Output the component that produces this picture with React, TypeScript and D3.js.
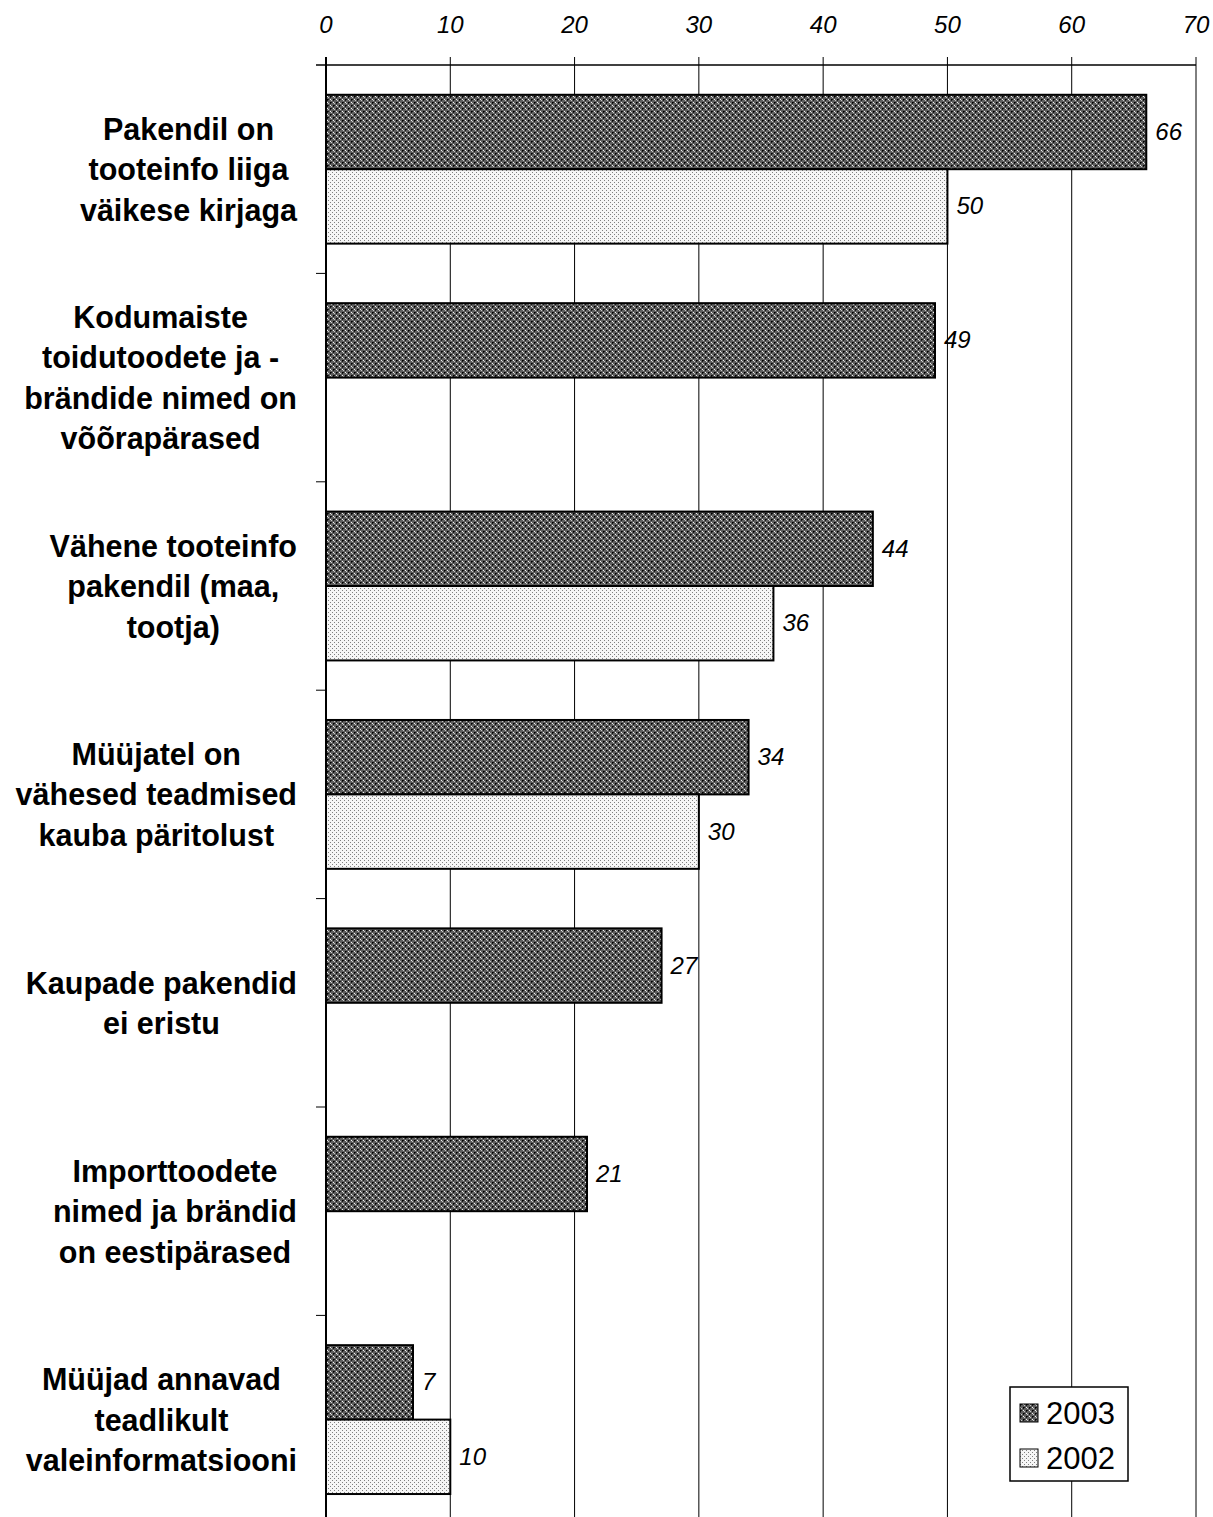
import React, { useEffect, useRef } from "react";
import * as d3 from "d3";

const categories: string[][] = [
  ["Pakendil on", "tooteinfo liiga", "väikese kirjaga"],
  ["Kodumaiste", "toidutoodete ja -", "brändide nimed on", "võõrapärased"],
  ["Vähene tooteinfo", "pakendil (maa,", "tootja)"],
  ["Müüjatel on", "vähesed teadmised", "kauba päritolust"],
  ["Kaupade pakendid", "ei eristu"],
  ["Importtoodete", "nimed ja brändid", "on eestipärased"],
  ["Müüjad annavad", "teadlikult", "valeinformatsiooni"],
];
const values2003: (number | null)[] = [66, 49, 44, 34, 27, 21, 7];
const values2002: (number | null)[] = [50, null, 36, 30, null, null, 10];
const seriesNames = ["2003", "2002"];
const xTicks = [0, 10, 20, 30, 40, 50, 60, 70];

const W = 1213;
const H = 1517;
const FONT = "'Liberation Sans', Arial, sans-serif";

export default function App() {
  const ref = useRef<SVGSVGElement>(null);
  useEffect(() => {
    const svg = d3.select(ref.current);
    svg.selectAll("*").remove();

    const defs = svg.append("defs");
    const pd = defs.append("pattern").attr("id", "pDark").attr("patternUnits", "userSpaceOnUse")
      .attr("width", 6).attr("height", 6);
    pd.append("rect").attr("width", 6).attr("height", 6).attr("fill", "#5e5e5e");
    [[0,0],[3,3]].forEach(([x,y]) => pd.append("rect").attr("x", x).attr("y", y).attr("width", 1).attr("height", 1).attr("fill", "#000"));
    [[1,0],[0,1],[4,3],[3,4]].forEach(([x,y]) => pd.append("rect").attr("x", x).attr("y", y).attr("width", 1).attr("height", 1).attr("fill", "#1a1a1a"));
    [[0,3],[3,0]].forEach(([x,y]) => pd.append("rect").attr("x", x).attr("y", y).attr("width", 1).attr("height", 1).attr("fill", "#f4f4f4"));
    [[1,4],[4,1]].forEach(([x,y]) => pd.append("rect").attr("x", x).attr("y", y).attr("width", 1).attr("height", 1).attr("fill", "#c8c8c8"));

    const pl = defs.append("pattern").attr("id", "pLight").attr("patternUnits", "userSpaceOnUse")
      .attr("width", 4).attr("height", 4);
    pl.append("rect").attr("width", 4).attr("height", 4).attr("fill", "#f6f6f6");
    [[0,0],[2,2]].forEach(([x,y]) => pl.append("rect").attr("x", x).attr("y", y).attr("width", 1).attr("height", 1).attr("fill", "#808080"));

    const x0 = 326, x1 = 1196, yTop = 65, band = 208.4;
    const x = d3.scaleLinear().domain([0, 70]).range([x0, x1]);
    const y = d3.scaleBand<number>().domain(categories.map((_, i) => i))
      .range([yTop, yTop + band * categories.length]).paddingInner(0).paddingOuter(0);
    const ys = d3.scaleBand<string>().domain(seriesNames).range([0, y.bandwidth()])
      .paddingInner(0).paddingOuter(0.4);

    // gridlines
    svg.append("g").selectAll("line").data(xTicks).join("line")
      .attr("x1", d => x(d)).attr("x2", d => x(d))
      .attr("y1", yTop - 8).attr("y2", H)
      .attr("stroke", "#000").attr("stroke-width", d => d === 0 ? 2 : 1);

    // top axis line
    svg.append("line").attr("x1", x0 - 10).attr("x2", x1).attr("y1", yTop).attr("y2", yTop)
      .attr("stroke", "#000").attr("stroke-width", 1.5);

    // left ticks
    svg.append("g").selectAll("line").data(d3.range(1, categories.length)).join("line")
      .attr("x1", x0 - 10).attr("x2", x0).attr("y1", d => yTop + band * d).attr("y2", d => yTop + band * d)
      .attr("stroke", "#000").attr("stroke-width", 1);

    // tick labels
    svg.append("g").selectAll("text").data(xTicks).join("text")
      .attr("x", d => x(d)).attr("y", 33).attr("text-anchor", "middle")
      .attr("font-family", FONT).attr("font-style", "italic")
      .attr("font-size", 24).text(d => String(d));

    const series = [
      { name: "2003", vals: values2003, fill: "url(#pDark)" },
      { name: "2002", vals: values2002, fill: "url(#pLight)" },
    ];
    series.forEach(s => {
      const g = svg.append("g");
      s.vals.forEach((v, i) => {
        if (v == null) return;
        const by = (y(i) as number) + (ys(s.name) as number);
        g.append("rect").attr("x", x(0)).attr("y", by).attr("width", x(v) - x(0)).attr("height", ys.bandwidth())
          .attr("fill", s.fill).attr("stroke", "#000").attr("stroke-width", 2);
        g.append("text").attr("x", x(v) + 9).attr("y", by + ys.bandwidth() / 2 + 8)
          .attr("font-family", FONT).attr("font-style", "italic")
          .attr("font-size", 24).text(String(v));
      });
    });

    // category labels
    const lineH = 40.5;
    categories.forEach((lines, i) => {
      const cy = (y(i) as number) + y.bandwidth() / 2;
      const t = svg.append("text").attr("font-family", FONT)
        .attr("font-weight", "bold").attr("font-size", 30.5).attr("text-anchor", "middle");
      const spans = lines.map((ln, k) => t.append("tspan").attr("x", 0)
        .attr("y", cy - ((lines.length - 1) * lineH) / 2 + k * lineH + 11).text(ln));
      let maxW = 0;
      spans.forEach(sp => { maxW = Math.max(maxW, (sp.node() as SVGTSpanElement).getComputedTextLength()); });
      const cx = 297 - maxW / 2;
      spans.forEach(sp => sp.attr("x", cx));
    });

    // legend
    const lg = svg.append("g");
    lg.append("rect").attr("x", 1010).attr("y", 1387).attr("width", 118).attr("height", 94)
      .attr("fill", "#fff").attr("stroke", "#000").attr("stroke-width", 1.5);
    series.forEach((s, k) => {
      const ly = 1413 + k * 45;
      lg.append("rect").attr("x", 1020).attr("y", ly - 9).attr("width", 18).attr("height", 18)
        .attr("fill", s.fill).attr("stroke", "#000").attr("stroke-width", 1);
      lg.append("text").attr("x", 1046).attr("y", ly + 11).attr("font-family", FONT)
        .attr("font-size", 31).text(s.name);
    });
  }, []);

  return (
    <svg ref={ref} width={W} height={H} style={{ position: "absolute", left: 0, top: 0, background: "#fff" }} />
  );
}
